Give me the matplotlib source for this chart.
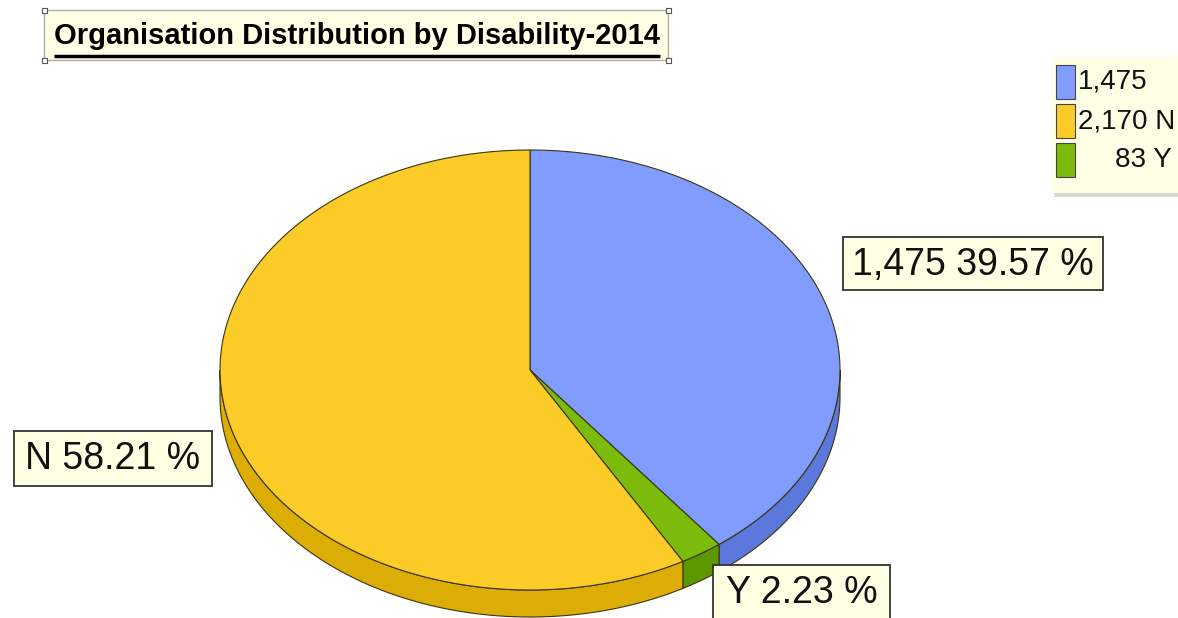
import numpy as np
import matplotlib.pyplot as plt
from matplotlib.patches import Polygon, Rectangle

plt.rcParams['font.family'] = ['Liberation Sans', 'DejaVu Sans']

# data
categories = ['', 'N', 'Y']
counts = [1475, 2170, 83]
title = 'Organisation Distribution by Disability-2014'

top_colors = ['#809cff', '#fbcc28', '#7cba0c']
side_colors = ['#5b78dc', '#dcae05', '#5e9800']
edge_color = '#3c3410'

# slices run clockwise from 12 o'clock in this order
slice_order = [0, 2, 1]

W, H = 1178, 618
fig = plt.figure(figsize=(W / 100, H / 100), dpi=100)
ax = fig.add_axes([0, 0, 1, 1])
ax.set_xlim(0, W)
ax.set_ylim(H, 0)
ax.axis('off')

# pie geometry in pixels (y grows downwards)
cx, cy = 530, 370
rx, ry = 310, 220
depth = 27

total = sum(counts)
fracs = [c / total for c in counts]
spans = {}
start = 0.0
for i in slice_order:
    spans[i] = (start, start + fracs[i] * 360)
    start += fracs[i] * 360


def arc(a0, a1, dy=0, n=120):
    t = np.radians(np.linspace(a0, a1, n))
    return np.column_stack([cx + rx * np.sin(t), cy - ry * np.cos(t) + dy])


# side walls (only the front half is visible)
for i in slice_order:
    a0 = max(spans[i][0], 90)
    a1 = min(spans[i][1], 270)
    if a1 <= a0:
        continue
    up = arc(a0, a1)
    down = arc(a0, a1, depth)[::-1]
    ax.add_patch(Polygon(np.vstack([up, down]), closed=True,
                         facecolor=side_colors[i], edgecolor=edge_color, lw=0.8))

# top faces
for i in slice_order:
    pts = np.vstack([[cx, cy], arc(*spans[i])])
    ax.add_patch(Polygon(pts, closed=True, facecolor=top_colors[i],
                         edgecolor=edge_color, lw=0.8))

# value labels
label_boxes = [(843, 237, 260, 53), (14, 431, 198, 55), (713, 565, 177, 60)]
for i, (x, y, w, h) in enumerate(label_boxes):
    pct = fracs[i] * 100
    if categories[i]:
        txt = f'{categories[i]} {pct:.2f} %'
    else:
        txt = f'{counts[i]:,} {pct:.2f} %'
    ax.add_patch(Rectangle((x, y), w, h, facecolor='#ffffe3', edgecolor='#333333',
                           lw=1.3, zorder=4))
    ax.text(x + w / 2, y + 28, txt, ha='center', va='center', fontsize=27,
            color='#111111', zorder=5)

# title box with selection handles
ax.add_patch(Rectangle((44, 10), 624, 50, facecolor='#ffffe6', edgecolor='#b0b0a0', lw=1))
for hx in (44, 668):
    for hy in (10, 60):
        ax.add_patch(Rectangle((hx - 2.5, hy - 2.5), 5, 5, facecolor='white',
                               edgecolor='#555555', lw=0.8, zorder=5))
t = ax.text(357, 36, title, ha='center', va='center', fontsize=21,
            fontweight='bold', color='black')
fig.canvas.draw()
bb = t.get_window_extent().transformed(ax.transData.inverted())
ax.plot([bb.x0, bb.x1], [56, 56], color='black', lw=2.5, solid_capstyle='butt')

# legend
ax.add_patch(Rectangle((1054, 60), 130, 137, facecolor='#d8d8d8', edgecolor='none'))
ax.add_patch(Rectangle((1052, 57), 130, 136, facecolor='#ffffe6', edgecolor='none'))
for i in range(len(counts)):
    y0 = 65 + i * 39
    ax.add_patch(Rectangle((1056, y0), 19, 34, facecolor=top_colors[i],
                           edgecolor='#444444', lw=0.8))
    lab = f'{counts[i]:,} {categories[i]}'.rstrip()
    if counts[i] < 1000:
        ax.text(1172, y0 + 17, lab, ha='right', va='center', fontsize=20, color='#111111')
    else:
        ax.text(1078, y0 + 17, lab, ha='left', va='center', fontsize=20, color='#111111')

fig.savefig('out.png', dpi=100)
